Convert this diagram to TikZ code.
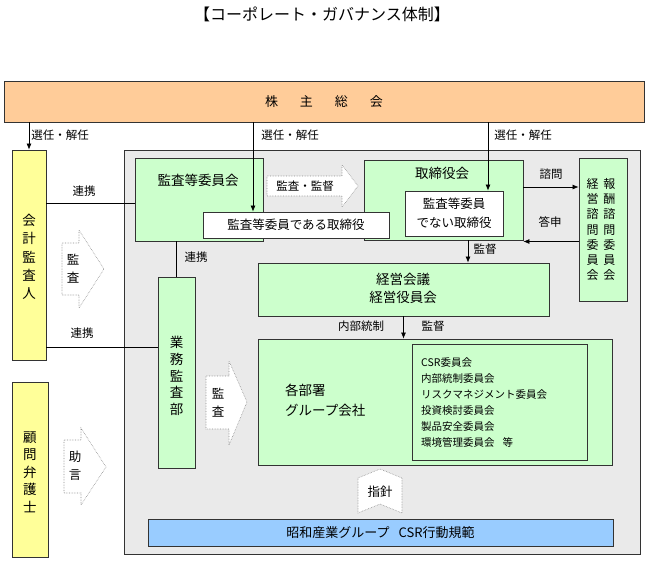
\documentclass[tikz,border=0pt]{standalone}
\usepackage{fontspec}
\setmainfont{Noto Sans CJK JP}
\usepackage{tikz}
\usetikzlibrary{arrows.meta}
\definecolor{kabucol}{RGB}{255,204,153}
\definecolor{kiiro}{RGB}{255,255,153}
\definecolor{midori}{RGB}{204,255,204}
\definecolor{aoiro}{RGB}{153,204,255}
\definecolor{haiiro}{RGB}{234,234,234}

\begin{document}
\begin{tikzpicture}[x=1pt,y=-1pt,
  box/.style={draw=black!80,line width=0.8pt,inner sep=0pt},
  greenbox/.style={box,fill=midori},
  yellowbox/.style={box,fill=kiiro},
  whitebox/.style={box,fill=white},
  lbl/.style={font=\fontsize{11.5}{14}\selectfont,inner sep=0pt},
  ttl/.style={font=\fontsize{13.5}{18}\selectfont,inner sep=0pt,align=center},
  tate/.style={align=center,inner sep=0pt},
  hollow/.style={draw=black!45,densely dotted,line width=0.6pt,fill=white},
  arr/.style={-{Latex[length=6pt,width=5pt]},line width=0.7pt},
  conn/.style={line width=0.7pt}]
\useasboundingbox (0,0) rectangle (648,563);

% title
\node[font=\fontsize{16}{18}\selectfont] (title) at (322,14) {【コーポレート・ガバナンス体制】};

% frame
\draw[box,fill=haiiro] (124,150) rectangle (640,554);

\node[box,fill=kabucol,minimum width=640pt,minimum height=41pt] (kabu) at (324,101.5)
  {\fontsize{13}{16}\selectfont 株\hspace{22pt}主\hspace{22pt}総\hspace{22pt}会};

% left side
\node[yellowbox,minimum width=34pt,minimum height=210pt] (kaikei) at (29,255) {};
\node[tate,font=\fontsize{13.5}{18.25}\selectfont] (kaikeiT) at (29,257) {会\\計\\監\\査\\人};
\node[yellowbox,minimum width=36pt,minimum height=175pt] (komon) at (30,469.5) {};
\node[tate,font=\fontsize{13.5}{17.5}\selectfont] (komonT) at (30,472) {顧\\問\\弁\\護\\士};

% committees and board
\node[greenbox,minimum width=128pt,minimum height=83pt] (kansa) at (199,199.5) {};
\node[ttl] (kansaT) at (198,180) {監査等委員会};
\node[greenbox,minimum width=159pt,minimum height=80pt] (tori) at (443.5,200) {};
\node[ttl] (toriT) at (442,173) {取締役会};
\node[whitebox,minimum width=186pt,minimum height=26pt,font=\fontsize{12.5}{15}\selectfont] (kansaTori) at (296,225) {監査等委員である取締役};
\node[whitebox,minimum width=98pt,minimum height=45pt,align=center,font=\fontsize{12.5}{19}\selectfont] (hiTori) at (454,213.5) {監査等委員\\でない取締役};
\node[greenbox,minimum width=48pt,minimum height=143pt] (shimon) at (603,229.5) {};
\node[inner sep=0pt,font=\fontsize{12}{15.3}\selectfont] (shimonT) at (601,231)
  {\begin{tabular}{@{}c@{\hspace{5pt}}c@{}}経&報\\営&酬\\諮&諮\\問&問\\委&委\\員&員\\会&会\end{tabular}};

\node[greenbox,minimum width=291pt,minimum height=53pt] (keiei) at (403.5,289.5) {};
\node[ttl] (keieiT) at (403,288) {経営会議\\経営役員会};

\node[greenbox,minimum width=37pt,minimum height=191pt] (gyomu) at (176.5,372.5) {};
\node[tate,font=\fontsize{13.5}{16.75}\selectfont] (gyomuT) at (176.5,376) {業\\務\\監\\査\\部};

\node[greenbox,minimum width=354pt,minimum height=126pt] (busho) at (435,402) {};
\node[anchor=west,align=left,inner sep=0pt,font=\fontsize{13.5}{20}\selectfont] (bushoT) at (285,400) {各部署\\グループ会社};
\node[box,fill=midori,minimum width=175pt,minimum height=116pt] (iinkai) at (499.5,402) {};
\node[anchor=west,align=left,inner sep=0pt,font=\fontsize{10.5}{16}\selectfont] (iinkaiT) at (421,403)
  {CSR委員会\\内部統制委員会\\リスクマネジメント委員会\\投資検討委員会\\製品安全委員会\\環境管理委員会\hspace{8pt}等};

\node[box,fill=aoiro,minimum width=465pt,minimum height=27pt,font=\fontsize{13}{16}\selectfont] (csr) at (380.5,532.5) {昭和産業グループ\hspace{9pt}CSR行動規範};

% hollow arrows
\draw[hollow] (62,243) -- (79,243) -- (79,230) -- (104,269) -- (79,308) -- (79,295) -- (62,295) -- cycle;
\node[tate,font=\fontsize{12.5}{18}\selectfont] (kansaY1) at (73,269) {監\\査};
\draw[hollow] (64,440) -- (81,440) -- (81,428) -- (106,467) -- (81,505) -- (81,493) -- (64,493) -- cycle;
\node[tate,font=\fontsize{12.5}{18}\selectfont] (jogen) at (75,466) {助\\言};
\draw[hollow] (206,376) -- (229,376) -- (229,361) -- (247,402) -- (229,445) -- (229,429) -- (206,429) -- cycle;
\node[tate,font=\fontsize{12.5}{18}\selectfont] (kansaY2) at (218,403) {監\\査};
\draw[hollow] (267,176) -- (342,176) -- (342,165) -- (358,186) -- (342,207) -- (342,196) -- (267,196) -- cycle;
\node[lbl] (kantoku) at (305,186) {監査・監督};
\draw[hollow] (358,478) -- (380,469) -- (402,478) -- (402,513) -- (380,504) -- (358,513) -- cycle;
\node[lbl,font=\fontsize{12.5}{14}\selectfont] (shishin) at (380,492) {指針};

% election arrows
\coordinate (sen2) at (253,122);
\coordinate (sen3) at (488,122);
\draw[arr] (kaikei.north |- kabu.south) -- (kaikei.north);
\draw[arr] (sen2) -- (sen2 |- kansaTori.north);
\draw[arr] (sen3) -- (sen3 |- hiTori.north);
\node[lbl] (senL1) at (60,135) {選任・解任};
\node[lbl] (senL2) at (290,135) {選任・解任};
\node[lbl] (senL3) at (523,135) {選任・解任};

% renkei
\draw[conn] ([yshift=-3.5pt]kaikei.east |- kansa.west) -- ([yshift=-3.5pt]kansa.west);
\node[lbl] (renkei1) at (84,191) {連携};
\draw[conn] ([yshift=25.5pt]kaikei.east |- gyomu.west) -- ([yshift=25.5pt]gyomu.west);
\node[lbl] (renkei2) at (82,333) {連携};
\draw[conn] (gyomu.north |- kansa.south) -- (gyomu.north);
\node[lbl] (renkei3) at (196,257) {連携};

% shimon / toshin
\draw[arr] ([yshift=13pt]tori.east) -- ([yshift=13pt]tori.east -| shimon.west);
\node[lbl] (shimonL) at (551,174) {諮問};
\draw[arr] ([yshift=-12pt]shimon.west) -- ([yshift=-12pt]shimon.west -| tori.east);
\node[lbl] (toshinL) at (550,222) {答申};

% kantoku
\draw[arr] ([xshift=24.5pt]tori.south) -- ([xshift=24.5pt]tori.south |- keiei.north);
\node[lbl] (kantokuL1) at (485,249) {監督};
\draw[arr] (keiei.south) -- (keiei.south |- busho.north);
\node[lbl] (naibuL) at (361,326) {内部統制};
\node[lbl] (kantokuL2) at (433,326) {監督};
\end{tikzpicture}
\end{document}
